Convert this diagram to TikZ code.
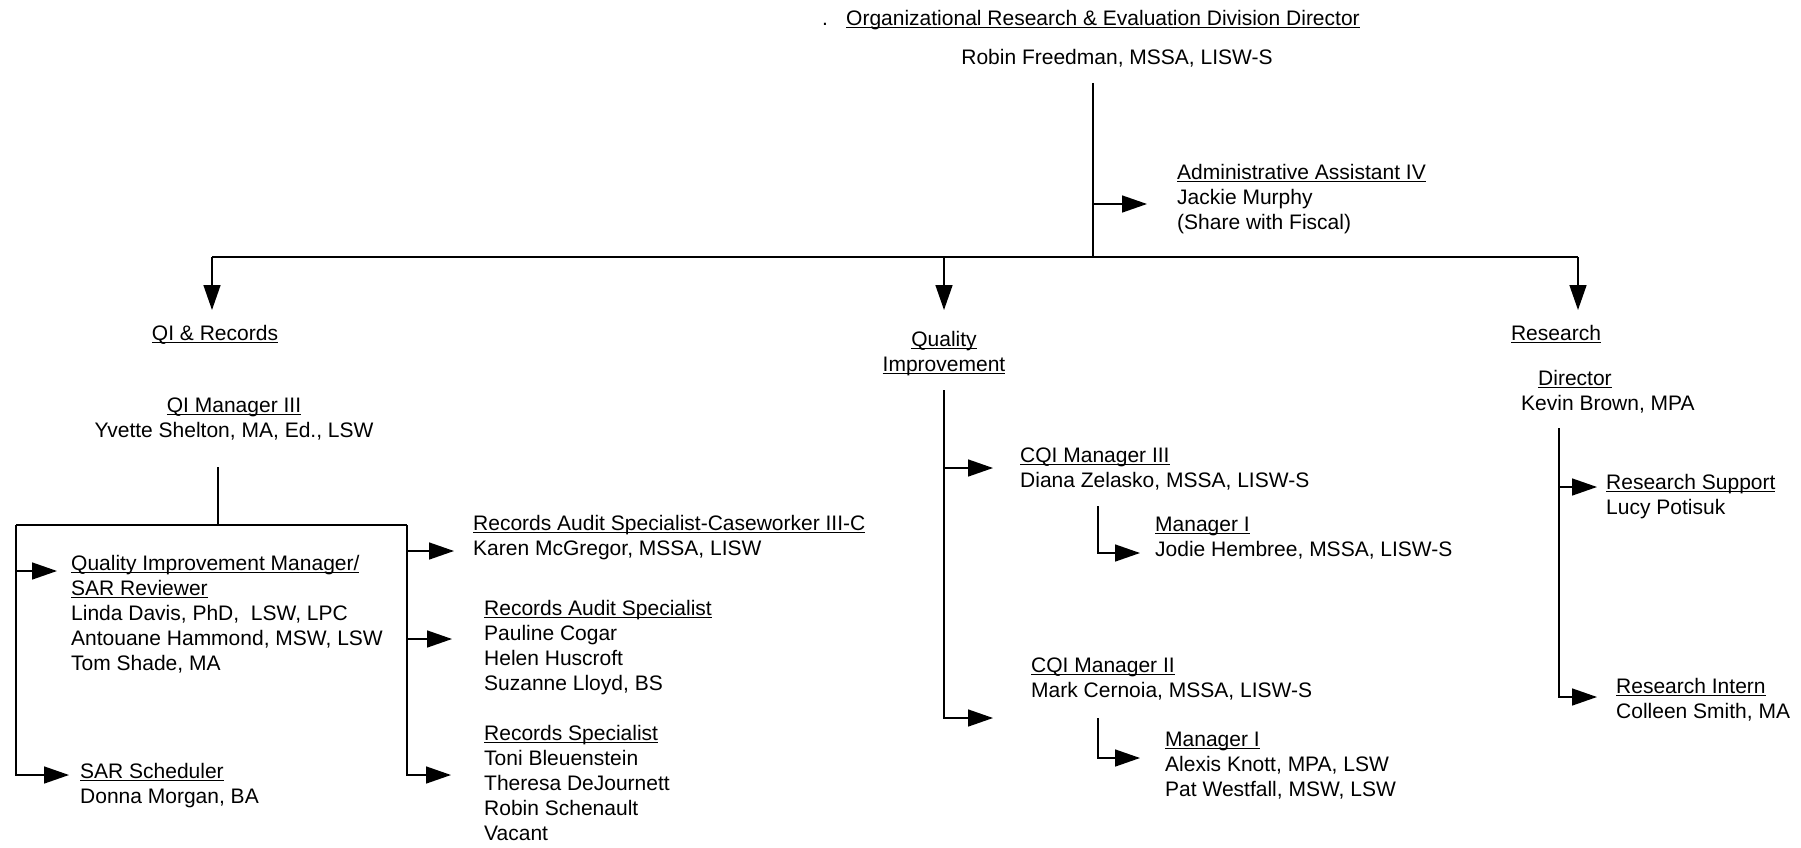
\documentclass[tikz,border=0pt]{standalone}
\usepackage{fontspec}
\setmainfont{Liberation Sans}
\usetikzlibrary{arrows.meta,calc,positioning}
\newcommand{\orgfont}{\fontsize{21}{25}\selectfont}
\newcommand{\ul}[1]{\setbox0\hbox{#1}\rlap{\rule[-3.2pt]{\wd0}{1.2pt}}\box0}
\newcommand{\ttl}[1]{\strut\ul{#1}}
\tikzset{
    lbl/.style={inner sep=0pt, anchor=north west, yshift=17.5pt, align=left, font=\orgfont},
    clbl/.style={lbl, anchor=north, align=center},
    conn/.style={line width=1.5pt, black},
    arr/.style={conn, -{Triangle[length=25pt,width=17pt]}},
    trunkline/.style={line width=2.2pt, black}
}

\begin{document}
\begin{tikzpicture}[x=1pt,y=-1pt]
    \useasboundingbox (0,0) rectangle (1801,848);

    % Division director.
    \node[lbl] (dot) at (822,25) {\strut.};
    \node[lbl] (ordd) at (846,25) {\ttl{Organizational Research \& Evaluation Division Director}};
    \node[clbl] (robin) at (1117,64) {\strut Robin Freedman, MSSA, LISW-S};
    \node[lbl] (admin) at (1177,179) {\ttl{Administrative Assistant IV}\\Jackie Murphy\\(Share with Fiscal)};

    % Three branches.
    \node[clbl] (qirec) at (215,340) {\ttl{QI \& Records}};
    \node[clbl] (qimp) at (944,346) {\ttl{Quality}\\\ul{Improvement}};
    \node[clbl] (res) at (1556,340) {\ttl{Research}};

    % QI & Records staff.
    \node[clbl] (qim3) at (234,412) {\ttl{QI Manager III}\\Yvette Shelton, MA, Ed., LSW};
    \node[lbl] (qimgr) at (71,570) {\ttl{Quality Improvement Manager/}\\\ul{SAR Reviewer}\\Linda Davis, PhD,\ \ LSW, LPC\\Antouane Hammond, MSW, LSW\\Tom Shade, MA};
    \node[lbl] (sched) at (80,778) {\ttl{SAR Scheduler}\\Donna Morgan, BA};
    \node[lbl] (rasc) at (473,530) {\ttl{Records Audit Specialist-Caseworker III-C}\\Karen McGregor, MSSA, LISW};
    \node[lbl] (ras) at (484,615) {\ttl{Records Audit Specialist}\\Pauline Cogar\\Helen Huscroft\\Suzanne Lloyd, BS};
    \node[lbl] (recspec) at (484,740) {\ttl{Records Specialist}\\Toni Bleuenstein\\Theresa DeJournett\\Robin Schenault\\Vacant};

    % Quality Improvement staff.
    \node[lbl] (cqi3) at (1020,462) {\ttl{CQI Manager III}\\Diana Zelasko, MSSA, LISW-S};
    \node[lbl] (mgra) at (1155,531) {\ttl{Manager I}\\Jodie Hembree, MSSA, LISW-S};
    \node[lbl] (cqi2) at (1031,672) {\ttl{CQI Manager II}\\Mark Cernoia, MSSA, LISW-S};
    \node[lbl] (mgrb) at (1165,746) {\ttl{Manager I}\\Alexis Knott, MPA, LSW\\Pat Westfall, MSW, LSW};

    % Research staff.
    \node[lbl] (dir) at (1521,385) {\strut\hspace{17pt}\ul{Director}\\Kevin Brown, MPA};
    \node[lbl] (rsup) at (1606,489) {\ttl{Research Support}\\Lucy Potisuk};
    \node[lbl] (rint) at (1616,693) {\ttl{Research Intern}\\Colleen Smith, MA};

    % Connector points.
    \coordinate (top) at (1093,83);
    \coordinate (trunk) at (1093,257);
    \coordinate (adm-in) at (1147,204);
    \coordinate (qirec-in) at (212,310);
    \coordinate (qimp-in) at (944,310);
    \coordinate (res-in) at (1578,310);
    \coordinate (qistem) at (218,467);
    \coordinate (boxl) at (16,525);
    \coordinate (boxr) at (407,525);
    \coordinate (qimgr-in) at (57,571);
    \coordinate (sched-in) at (69,775);
    \coordinate (rasc-in) at (454,551);
    \coordinate (ras-in) at (452,639);
    \coordinate (recspec-in) at (451,775);
    \coordinate (qistart) at (944,390);
    \coordinate (cqi3-in) at (993,468);
    \coordinate (cqi2-in) at (993,718);
    \coordinate (suba) at (1098,506);
    \coordinate (mgra-in) at (1140,553);
    \coordinate (subb) at (1098,718);
    \coordinate (mgrb-in) at (1140,758);
    \coordinate (resstart) at (1559,428);
    \coordinate (rsup-in) at (1597,487);
    \coordinate (rint-in) at (1597,697);

    % Director to branches.
    \draw[conn] (top) -- (trunk);
    \draw[arr] (top |- adm-in) -- (adm-in);
    \draw[trunkline] (trunk -| qirec-in) -- (trunk -| res-in);
    \foreach \n in {qirec-in,qimp-in,res-in}
        \draw[arr] (trunk -| \n) -- (\n);

    % QI & Records lines.
    \draw[conn] (qistem) -- (qistem |- boxl);
    \draw[trunkline] (boxl) -- (boxr);
    \draw[arr] (boxl) -- (boxl |- sched-in) -- (sched-in);
    \draw[arr] (boxl |- qimgr-in) -- (qimgr-in);
    \draw[arr] (boxr) -- (boxr |- recspec-in) -- (recspec-in);
    \foreach \n in {rasc-in,ras-in}
        \draw[arr] (boxr |- \n) -- (\n);

    % Quality Improvement lines.
    \draw[arr] (qistart) -- (qistart |- cqi2-in) -- (cqi2-in);
    \draw[arr] (qistart |- cqi3-in) -- (cqi3-in);
    \draw[arr] (suba) -- (suba |- mgra-in) -- (mgra-in);
    \draw[arr] (subb) -- (subb |- mgrb-in) -- (mgrb-in);

    % Research lines.
    \draw[arr] (resstart) -- (resstart |- rint-in) -- (rint-in);
    \draw[arr] (resstart |- rsup-in) -- (rsup-in);
\end{tikzpicture}
\end{document}
